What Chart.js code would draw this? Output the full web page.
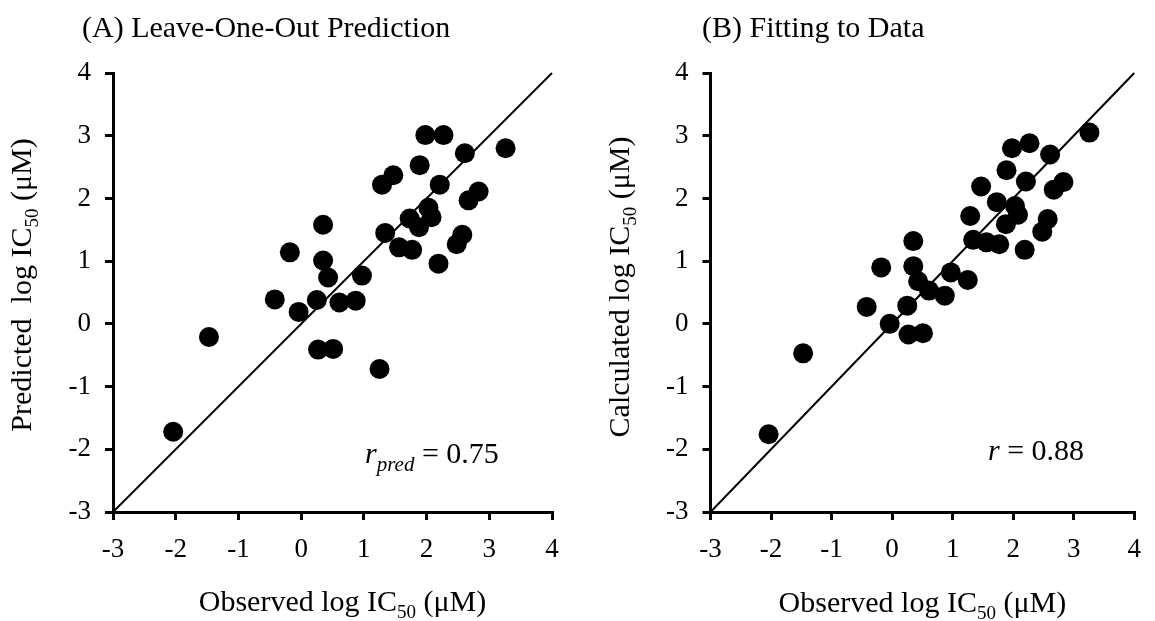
<!DOCTYPE html>
<html>
<head>
<meta charset="utf-8">
<script src="https://cdn.jsdelivr.net/npm/chart.js@4.4.1/dist/chart.umd.min.js"></script>
<style>
  html, body { margin:0; padding:0; background:#fff; }
  #wrap { position:relative; width:1155px; height:621px; overflow:hidden; }
  canvas { position:absolute; top:0; }
</style>
</head>
<body>
<div id="wrap">
  <canvas id="chartA" width="580" height="621" style="left:0px"></canvas>
  <canvas id="chartB" width="575" height="621" style="left:580px"></canvas>
</div>
<script>
// observed log IC50 (same compounds in both panels)
const observed   = [-2.04, -1.47, -0.42, -0.18, -0.04, 0.25, 0.27, 0.35, 0.35, 0.43, 0.51, 0.61, 0.87, 0.97, 1.25, 1.29, 1.34, 1.47, 1.56, 1.77, 1.73, 1.88, 1.89, 1.98, 2.03, 2.08, 2.27, 2.21, 2.19, 2.48, 2.57, 2.61, 2.67, 2.83, 3.26];
// (A) leave-one-out predicted
const predicted  = [-1.72, -0.21, 0.39, 1.14, 0.19, 0.38, -0.41, 1.58, 1.01, 0.74, -0.40, 0.34, 0.37, 0.77, -0.72, 2.22, 1.45, 2.37, 1.22, 1.18, 1.68, 1.54, 2.53, 3.01, 1.85, 1.70, 3.01, 2.22, 0.96, 1.27, 1.42, 2.72, 1.97, 2.11, 2.80];
// (B) fitted / calculated
const calculated = [-1.76, -0.47, 0.27, 0.90, 0.00, 0.29, -0.17, 1.32, 0.92, 0.68, -0.15, 0.53, 0.45, 0.82, 0.70, 1.72, 1.34, 2.19, 1.30, 1.27, 1.94, 1.59, 2.45, 2.80, 1.88, 1.74, 2.88, 2.27, 1.18, 1.47, 1.67, 2.70, 2.14, 2.26, 3.05];
// identity line
const diagX = [-3, 4];
const diagY = [-3, 4];
const axisMin = -3, axisMax = 4;

const serif = "'Liberation Serif', 'Times New Roman', serif";
const big = "30px " + serif;
const small = "19px " + serif;
const ital = "italic 30px " + serif;
const italSmall = "italic 21px " + serif;

function drawRich(ctx, parts, x, y, align){
  let w = 0;
  parts.forEach(p => { ctx.font = p.font; w += ctx.measureText(p.text).width; });
  let cx = align === 'center' ? x - w/2 : x;
  ctx.textAlign = 'left';
  ctx.textBaseline = 'alphabetic';
  ctx.fillStyle = '#000';
  parts.forEach(p => {
    ctx.font = p.font;
    ctx.fillText(p.text, cx, y + (p.dy || 0));
    cx += ctx.measureText(p.text).width;
  });
}

// titles, axis titles (with subscripts) and the r label
const textLayer = {
  id: 'textLayer',
  afterDraw(chart, args, o){
    const ctx = chart.ctx, ca = chart.chartArea;
    ctx.save();
    drawRich(ctx, [{text:o.title, font:big}], ca.left + o.titleDx, 37, 'left');
    drawRich(ctx, o.xTitle, (ca.left + ca.right)/2 + o.xTitleDx, o.xTitleY, 'center');
    ctx.save();
    ctx.translate(ca.left - 82, o.yTitleY);
    ctx.rotate(-Math.PI/2);
    drawRich(ctx, o.yTitle, 0, 0, 'center');
    ctx.restore();
    drawRich(ctx, o.rText, ca.left + o.rDx, o.rY, 'left');
    ctx.restore();
  }
};

function scaleOpts(isY, size){
  return {
    type: 'linear',
    min: axisMin, max: axisMax,
    ticks: { stepSize:1, color:'#000', font:{family:serif, size:27}, padding:14, maxRotation:0, autoSkip:false },
    grid: { drawOnChartArea:false, drawTicks:true, tickLength:8, lineWidth:3, color:'#000' },
    border: { display:true, width:3, color:'#000' },
    afterFit(s){ if(isY) s.width = size; else s.height = size; }
  };
}

function makeChart(id, yVals, yW, padRight, txt){
  return new Chart(document.getElementById(id), {
    type: 'scatter',
    data: {
      datasets: [
        {
          data: diagX.map((x, i) => ({x:x, y:diagY[i]})),
          showLine: true, borderColor:'#000', borderWidth:2,
          pointRadius:0, clip:false, order:2
        },
        {
          data: observed.map((x, i) => ({x:x, y:yVals[i]})),
          backgroundColor:'#000', borderWidth:0,
          pointRadius:10, pointHoverRadius:10, order:1
        }
      ]
    },
    options: {
      responsive:false,
      animation:false,
      layout: { padding: { left:0, top:73, right:padRight, bottom:0 } },
      scales: { x: scaleOpts(false, 109), y: scaleOpts(true, yW) },
      plugins: { legend:{display:false}, tooltip:{enabled:false}, textLayer: txt }
    },
    plugins: [textLayer]
  });
}

const xTitle = [{text:'Observed log IC', font:big}, {text:'50', font:small, dy:7}, {text:' (\u03BCM)', font:big}];

makeChart('chartA', predicted, 113, 28, {
  title: '(A) Leave-One-Out Prediction', titleDx: -31,
  xTitle: xTitle, xTitleY: 611, xTitleDx: 10,
  yTitle: [{text:'Predicted  log IC', font:big}, {text:'50', font:small, dy:7}, {text:' (\u03BCM)', font:big}],
  yTitleY: 285,
  rText: [{text:'r', font:ital}, {text:'pred', font:italSmall, dy:8}, {text:' = 0.75', font:big}],
  rDx: 252, rY: 463
});

makeChart('chartB', calculated, 130.5, 7, {
  title: '(B) Fitting to Data', titleDx: -8.5,
  xTitle: xTitle, xTitleY: 612, xTitleDx: 0,
  yTitle: [{text:'Calculated log IC', font:big}, {text:'50', font:small, dy:7}, {text:' (\u03BCM)', font:big}],
  yTitleY: 287,
  rText: [{text:'r', font:ital}, {text:' = 0.88', font:big}],
  rDx: 277.5, rY: 460
});
</script>
</body>
</html>
